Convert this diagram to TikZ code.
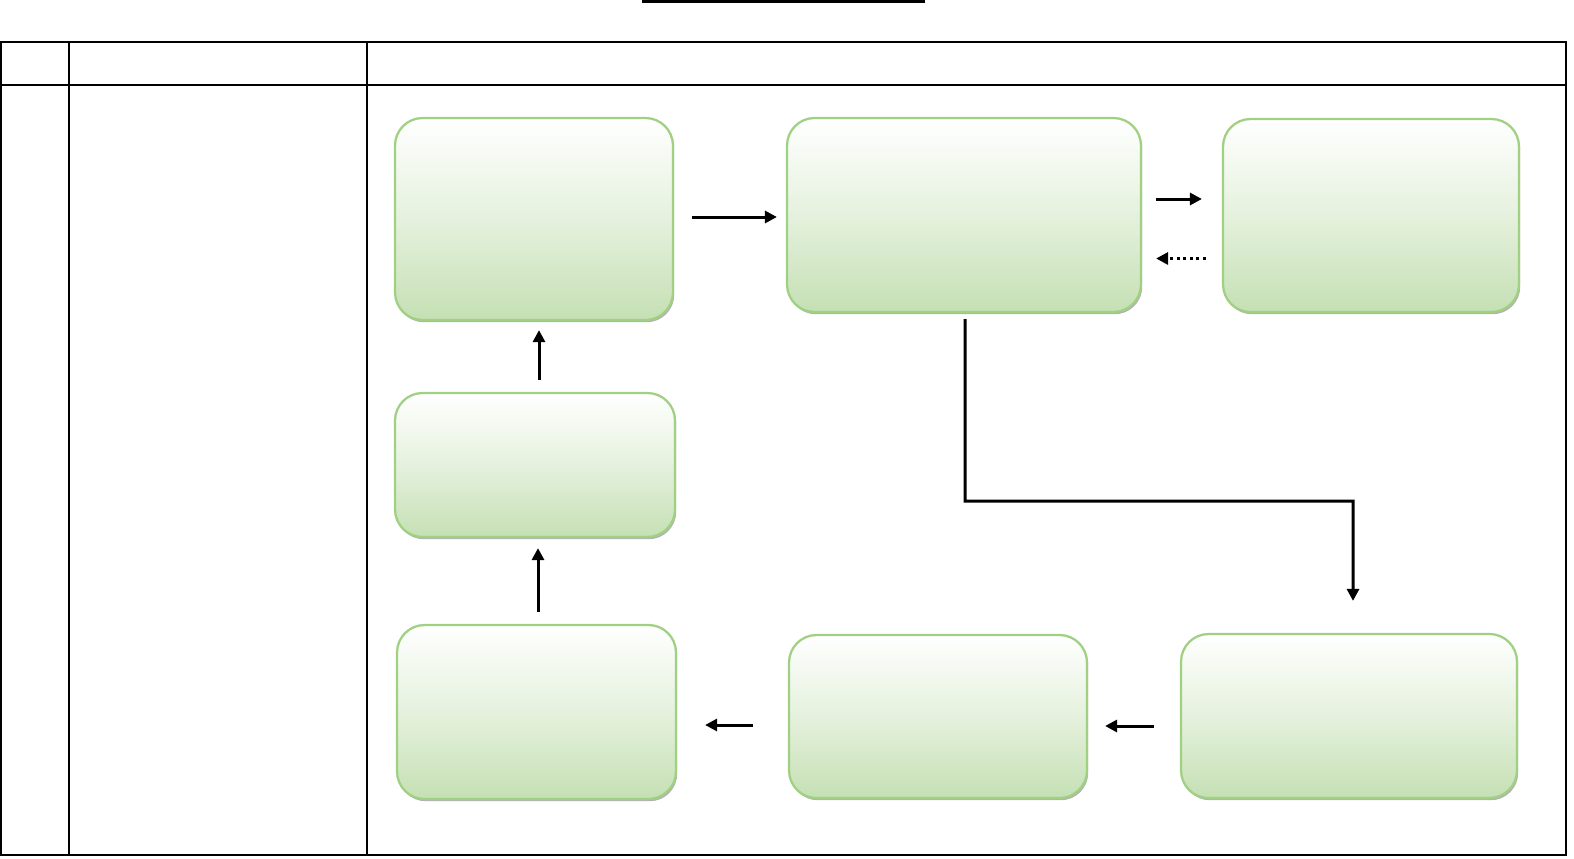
\documentclass[tikz,border=0pt]{standalone}
\usepackage{xcolor}
\usepackage{tikz}
\usetikzlibrary{arrows.meta,shadows}
\definecolor{boxline}{RGB}{160,208,130}
\definecolor{boxfill}{RGB}{197,224,180}

\begin{document}
\begin{tikzpicture}[x=0.02cm,y=-0.02cm]
	\tikzstyle{grid}=[line width=0.4mm]
	\tikzstyle{stage}=[draw=boxline,line width=0.45mm,rounded corners=5.5mm,inner sep=0pt,
		top color=white,bottom color=boxfill,middle color=boxfill!45,
		drop shadow={shadow xshift=0.25mm,shadow yshift=-0.45mm,fill=black!60,opacity=0.5}]
	\tikzstyle{flow}=[line width=0.6mm,-{Triangle[length=2.4mm,width=2.4mm]}]
	\useasboundingbox (0,0) rectangle (1574,858);
	% title rule and table
	\draw[line width=0.55mm] (642,1.3) -- (925,1.3);
	\draw[grid] (1,42) rectangle (1566,855);
	\draw[grid] (1,85) -- (1566,85);
	\draw[grid] (69,42) -- (69,855);
	\draw[grid] (367,42) -- (367,855);
	% stages
	\node[stage,minimum width=55.6mm,minimum height=40.4mm] (A) at (534,219) {};
	\node[stage,minimum width=70.8mm,minimum height=38.8mm] (B) at (964,215) {};
	\node[stage,minimum width=59.2mm,minimum height=38.6mm] (C) at (1371,215.5) {};
	\node[stage,minimum width=56mm,minimum height=28.8mm] (D) at (535,465) {};
	\node[stage,minimum width=55.8mm,minimum height=34.8mm] (E) at (536.5,712) {};
	\node[stage,minimum width=59.6mm,minimum height=32.6mm] (F) at (938,716.5) {};
	\node[stage,minimum width=67.2mm,minimum height=32.8mm] (G) at (1349,716) {};
	\coordinate (bend) at (965,501);
	% connectors
	\draw[flow,shorten <=3.6mm,shorten >=1.8mm] ([yshift=0.4mm]A.east) -- ([yshift=0.4mm]A.east -| B.west);
	\draw[flow,shorten <=2.8mm,shorten >=4mm] ([yshift=3.2mm]B.east) -- ([yshift=3.2mm]B.east -| C.west);
	\draw[flow,dotted,shorten <=3.2mm,shorten >=2.8mm] ([yshift=-8.6mm]C.west) -- ([yshift=-8.6mm]C.west -| B.east);
	\draw[flow,shorten <=1.2mm,shorten >=6.4mm] ([xshift=0.2mm]B.south) -- (bend) -| ([xshift=0.8mm]G.north);
	\draw[flow,shorten <=5.2mm,shorten >=3.4mm] ([yshift=-2mm]G.west) -- ([yshift=-2mm]G.west -| F.east);
	\draw[flow,shorten <=7mm,shorten >=5.6mm] ([yshift=-1.7mm]F.west) -- ([yshift=-1.7mm]F.west -| E.east);
	\draw[flow,shorten <=2.4mm,shorten >=2mm] ([xshift=0.3mm]E.north) -- ([xshift=0.3mm]E.north |- D.south);
	\draw[flow,shorten <=2.4mm,shorten >=1.8mm] ([xshift=0.8mm]D.north) -- ([xshift=0.8mm]D.north |- A.south);
\end{tikzpicture}
\end{document}
